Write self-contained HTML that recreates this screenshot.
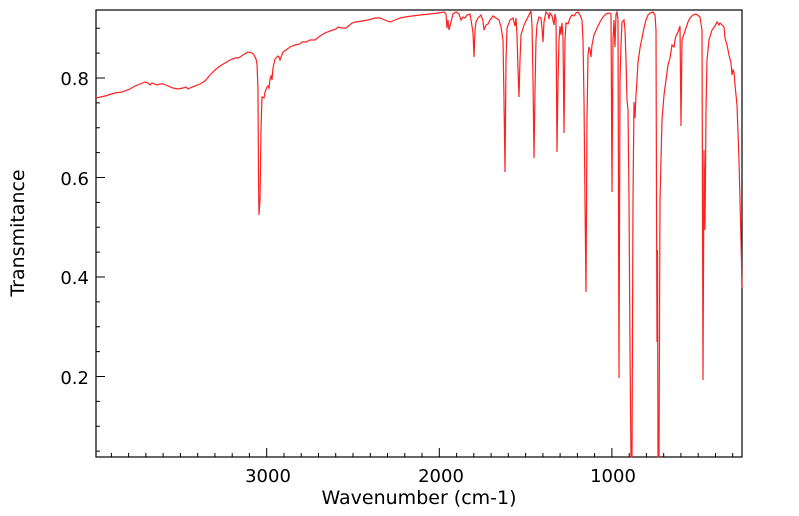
<!DOCTYPE html>
<html><head><meta charset="utf-8"><style>body{margin:0;background:#fff}svg{display:block}</style></head><body>
<svg width="799" height="516" xmlns="http://www.w3.org/2000/svg" font-family="DejaVu Sans, Liberation Sans, sans-serif">
<rect x="96" y="10" width="646" height="447" fill="none" stroke="#000" stroke-width="1.2"/>
<path stroke="#000" stroke-width="1" fill="none" d="M111.4 457v-4M128.6 457v-4M145.9 457v-4M163.1 457v-4M180.4 457v-4M197.7 457v-4M214.9 457v-4M232.2 457v-4M249.4 457v-4M266.7 457v-9M284 457v-4M301.2 457v-4M318.5 457v-4M335.7 457v-4M353 457v-4M370.3 457v-4M387.5 457v-4M404.8 457v-4M422 457v-4M439.3 457v-9M456.6 457v-4M473.8 457v-4M491.1 457v-4M508.3 457v-4M525.6 457v-4M542.9 457v-4M560.1 457v-4M577.4 457v-4M594.6 457v-4M611.9 457v-9M629.2 457v-4M646.4 457v-4M663.7 457v-4M680.9 457v-4M698.2 457v-4M715.5 457v-4M732.7 457v-4
M96 451.1h4M96 426.25h4M96 401.4h4M96 376.5h9M96 351.6h4M96 326.75h4M96 301.9h4M96 277h9M96 252.1h4M96 227.25h4M96 202.4h4M96 177.5h9M96 152.6h4M96 127.75h4M96 102.9h4M96 78h9M96 53.1h4M96 28.25h4"/>
<g font-size="18" fill="#000">
<text x="268" y="482" text-anchor="middle">3000</text>
<text x="441" y="482" text-anchor="middle">2000</text>
<text x="613" y="482" text-anchor="middle">1000</text>
<text x="89" y="85" text-anchor="end">0.8</text>
<text x="89" y="185" text-anchor="end">0.6</text>
<text x="89" y="284" text-anchor="end">0.4</text>
<text x="89" y="384" text-anchor="end">0.2</text>
<text x="419" y="504" text-anchor="middle" font-size="19">Wavenumber (cm-1)</text>
<text transform="translate(24,233) rotate(-90)" text-anchor="middle" font-size="19">Transmitance</text>
</g>
<polyline fill="none" stroke="#ff2020" stroke-width="1.2" points="96,98 105,96 115,93 122,92 130,89 135,86 140,84 145,82 148,83 150,85 152,83 155,84 157,85 160,84 163,84 168,86 173,88 178,89 183,88 186,87 188,89 192,87 195,86 200,84 205,81 210,75 215,70 220,66 225,63 230,60 235,58 238,58 240,57 243,55 248,52 252,53 254,55 256,59 257,64 258,90 258.5,180 259,215 260,200 261,130 262,97 264,98 265,92 267,87 268,86 269,88 270,79 271,76 272,80 273,68 275,59 278,56 279,57 280,60 283,52 286,50 290,47 295,45 300,44 302,42 306,42 310,40 315,40 320,36 325,33 330,31 336,29 338,27 342,28 346,28 352,23 356,22 362,21 368,20 375,18 380,18 385,20 390,22 395,20 400,18 405,17 412,16 420,15 430,14 438,13 444,12 446,14 447,28 448,20 449,30 451,22 453,14 456,12 459,14 461,20 463,17 465,18 467,15 470,14 472,26 473,33 474,57 475,30 476,22 478,18 481,15 483,21 484,30 486,25 488,24 490,20 493,16 496,18 499,20 501,27 503,40 504,100 505,172 506,60 507,28 510,20 513,18 515,26 516,18 517,35 518,70 519,97 520,60 521,35 524,25 528,17 531,11 532,25 533,80 534,158 535,90 536,40 537,25 539,17 541,18 542,28 543,42 544,22 546,12 548,14 549,19 550,13 552,16 554,25 555,14 556,20 557,152 558,80 559,40 560,26 561,35 562,23 563,37 564,133 565,40 566,23 568,24 570,18 572,15 574,16 576,13 578,12 580,15 582,20 583,40 584,100 585,200 586,292 587,120 588,55 589,47 590,50 591,57 592,45 594,35 597,28 600,22 603,17 606,14 609,13 611,14 612,192 613,40 614,20 615,47 616,14 617,12 618,20 619,378 620,80 621,45 622,22 624,20 625,30 626,60 627,100 628,110 629,200 630,350 631,457 632,457 633,200 634,102 635,118 636,95 637,80 638,62 640,48 642,38 644,28 646,20 648,15 650,13 653,12 655,15 656,30 656.5,200 657,342 657.5,250 658,457 659,457 660,200 662,120 664,95 666,80 668,65 670,58 672,45 674,47 675,40 676,36 678,32 680,26 681,126 682,40 684,34 686,28 688,22 690,18 693,15 696,14 700,17 702,30 703,380 704,150 705,230 706,110 707,60 709,40 712,30 715,26 717,22 719,25 720,23 722,25 724,27 725,38 727,45 729,55 731,63 732,75 733,70 734,72 735,85 737,105 739,160 741,240 742,288"/>
</svg>
</body></html>
